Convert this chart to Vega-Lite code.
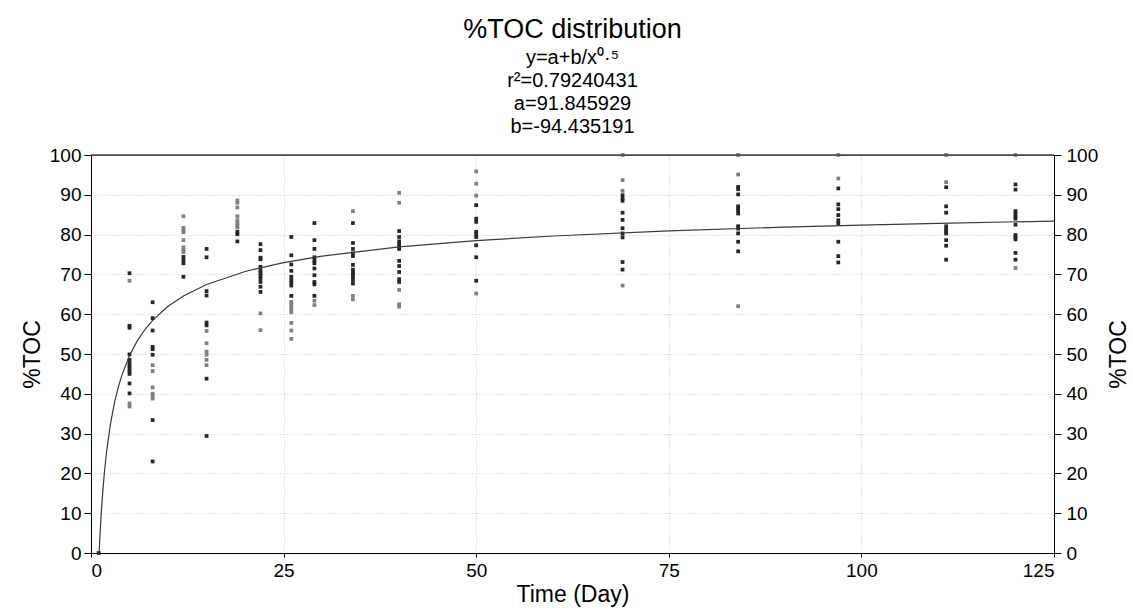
{
  "$schema": "https://vega.github.io/schema/vega-lite/v6.json",
  "width": 963,
  "height": 398,
  "autosize": {"type": "none"},
  "padding": {"left": 91, "top": 155, "right": 79, "bottom": 62},
  "background": "white",
  "title": {
    "text": "%TOC distribution",
    "subtitle": ["y=a+b/x⁰·⁵", "r²=0.79240431", "a=91.845929", "b=-94.435191"],
    "anchor": "middle",
    "font": "Liberation Sans",
    "fontSize": 27,
    "fontWeight": "normal",
    "color": "black",
    "subtitleFont": "Liberation Sans",
    "subtitleFontSize": 20,
    "subtitleColor": "black",
    "subtitleLineHeight": 23,
    "subtitlePadding": 4,
    "offset": 8
  },
  "config": {
    "view": {"stroke": "#333"},
    "axis": {
      "domainColor": "black",
      "tickColor": "black",
      "labelFont": "Liberation Sans",
      "labelFontSize": 19,
      "labelColor": "black",
      "titleFont": "Liberation Sans",
      "titleFontSize": 23,
      "titleFontWeight": "normal",
      "titleColor": "black",
      "gridColor": "#c8c8c8",
      "gridDash": [1, 2],
      "gridWidth": 1,
      "tickSize": 7
    }
  },
  "datasets": {
    "pts": [
      {"day": 1, "toc": 0, "tone": "k"},
      {"day": 5, "toc": 70.3, "tone": "k"}, {"day": 5, "toc": 68.4, "tone": "g"}, {"day": 5, "toc": 57.1, "tone": "k"}, {"day": 5, "toc": 56.6, "tone": "k"}, {"day": 5, "toc": 49.9, "tone": "k"}, {"day": 5, "toc": 48.5, "tone": "k"}, {"day": 5, "toc": 47.7, "tone": "k"}, {"day": 5, "toc": 47.0, "tone": "k"}, {"day": 5, "toc": 46.3, "tone": "k"}, {"day": 5, "toc": 45.6, "tone": "k"}, {"day": 5, "toc": 45.0, "tone": "k"}, {"day": 5, "toc": 42.6, "tone": "k"}, {"day": 5, "toc": 40.1, "tone": "k"}, {"day": 5, "toc": 37.6, "tone": "g"}, {"day": 5, "toc": 36.8, "tone": "g"},
      {"day": 8, "toc": 63.0, "tone": "k"}, {"day": 8, "toc": 59.0, "tone": "k"}, {"day": 8, "toc": 55.9, "tone": "k"}, {"day": 8, "toc": 51.8, "tone": "k"}, {"day": 8, "toc": 51.2, "tone": "k"}, {"day": 8, "toc": 49.8, "tone": "k"}, {"day": 8, "toc": 47.2, "tone": "g"}, {"day": 8, "toc": 45.7, "tone": "g"}, {"day": 8, "toc": 41.6, "tone": "g"}, {"day": 8, "toc": 40.0, "tone": "g"}, {"day": 8, "toc": 39.3, "tone": "g"}, {"day": 8, "toc": 38.8, "tone": "g"}, {"day": 8, "toc": 33.4, "tone": "k"}, {"day": 8, "toc": 23.0, "tone": "k"},
      {"day": 12, "toc": 84.6, "tone": "g"}, {"day": 12, "toc": 81.7, "tone": "g"}, {"day": 12, "toc": 81.1, "tone": "g"}, {"day": 12, "toc": 80.6, "tone": "g"}, {"day": 12, "toc": 78.6, "tone": "g"}, {"day": 12, "toc": 76.8, "tone": "g"}, {"day": 12, "toc": 76.1, "tone": "g"}, {"day": 12, "toc": 75.6, "tone": "g"}, {"day": 12, "toc": 74.4, "tone": "k"}, {"day": 12, "toc": 73.6, "tone": "k"}, {"day": 12, "toc": 72.8, "tone": "k"}, {"day": 12, "toc": 69.4, "tone": "k"},
      {"day": 15, "toc": 76.4, "tone": "k"}, {"day": 15, "toc": 74.3, "tone": "k"}, {"day": 15, "toc": 65.8, "tone": "k"}, {"day": 15, "toc": 64.7, "tone": "k"}, {"day": 15, "toc": 57.9, "tone": "k"}, {"day": 15, "toc": 57.2, "tone": "k"}, {"day": 15, "toc": 55.8, "tone": "g"}, {"day": 15, "toc": 52.7, "tone": "g"}, {"day": 15, "toc": 50.6, "tone": "g"}, {"day": 15, "toc": 49.8, "tone": "g"}, {"day": 15, "toc": 48.5, "tone": "g"}, {"day": 15, "toc": 47.2, "tone": "g"}, {"day": 15, "toc": 43.8, "tone": "k"}, {"day": 15, "toc": 29.4, "tone": "k"},
      {"day": 19, "toc": 88.6, "tone": "g"}, {"day": 19, "toc": 88.0, "tone": "g"}, {"day": 19, "toc": 86.8, "tone": "g"}, {"day": 19, "toc": 84.6, "tone": "g"}, {"day": 19, "toc": 83.6, "tone": "g"}, {"day": 19, "toc": 82.9, "tone": "g"}, {"day": 19, "toc": 82.3, "tone": "g"}, {"day": 19, "toc": 81.8, "tone": "g"}, {"day": 19, "toc": 80.7, "tone": "k"}, {"day": 19, "toc": 80.1, "tone": "k"}, {"day": 19, "toc": 78.3, "tone": "k"},
      {"day": 22, "toc": 77.6, "tone": "k"}, {"day": 22, "toc": 76.1, "tone": "k"}, {"day": 22, "toc": 74.2, "tone": "k"}, {"day": 22, "toc": 73.8, "tone": "k"}, {"day": 22, "toc": 71.9, "tone": "k"}, {"day": 22, "toc": 70.9, "tone": "k"}, {"day": 22, "toc": 70.4, "tone": "k"}, {"day": 22, "toc": 69.7, "tone": "k"}, {"day": 22, "toc": 69.0, "tone": "k"}, {"day": 22, "toc": 68.1, "tone": "k"}, {"day": 22, "toc": 66.9, "tone": "k"}, {"day": 22, "toc": 65.6, "tone": "k"}, {"day": 22, "toc": 60.2, "tone": "g"}, {"day": 22, "toc": 56.0, "tone": "g"},
      {"day": 26, "toc": 79.4, "tone": "k"}, {"day": 26, "toc": 74.8, "tone": "k"}, {"day": 26, "toc": 72.5, "tone": "k"}, {"day": 26, "toc": 70.9, "tone": "k"}, {"day": 26, "toc": 69.4, "tone": "k"}, {"day": 26, "toc": 68.6, "tone": "k"}, {"day": 26, "toc": 67.9, "tone": "k"}, {"day": 26, "toc": 67.2, "tone": "k"}, {"day": 26, "toc": 64.6, "tone": "k"}, {"day": 26, "toc": 63.1, "tone": "g"}, {"day": 26, "toc": 62.5, "tone": "g"}, {"day": 26, "toc": 61.9, "tone": "g"}, {"day": 26, "toc": 61.2, "tone": "g"}, {"day": 26, "toc": 60.5, "tone": "g"}, {"day": 26, "toc": 57.8, "tone": "g"}, {"day": 26, "toc": 55.9, "tone": "g"}, {"day": 26, "toc": 53.8, "tone": "g"},
      {"day": 29, "toc": 82.9, "tone": "k"}, {"day": 29, "toc": 78.6, "tone": "k"}, {"day": 29, "toc": 76.4, "tone": "k"}, {"day": 29, "toc": 74.3, "tone": "k"}, {"day": 29, "toc": 73.4, "tone": "k"}, {"day": 29, "toc": 72.8, "tone": "k"}, {"day": 29, "toc": 71.5, "tone": "k"}, {"day": 29, "toc": 69.8, "tone": "k"}, {"day": 29, "toc": 68.1, "tone": "k"}, {"day": 29, "toc": 67.5, "tone": "k"}, {"day": 29, "toc": 64.6, "tone": "k"}, {"day": 29, "toc": 63.4, "tone": "g"}, {"day": 29, "toc": 62.3, "tone": "g"},
      {"day": 34, "toc": 85.9, "tone": "g"}, {"day": 34, "toc": 82.9, "tone": "k"}, {"day": 34, "toc": 77.9, "tone": "k"}, {"day": 34, "toc": 76.4, "tone": "k"}, {"day": 34, "toc": 75.3, "tone": "k"}, {"day": 34, "toc": 74.6, "tone": "k"}, {"day": 34, "toc": 72.4, "tone": "k"}, {"day": 34, "toc": 71.2, "tone": "k"}, {"day": 34, "toc": 70.6, "tone": "k"}, {"day": 34, "toc": 70.1, "tone": "k"}, {"day": 34, "toc": 69.4, "tone": "k"}, {"day": 34, "toc": 68.6, "tone": "k"}, {"day": 34, "toc": 67.7, "tone": "k"}, {"day": 34, "toc": 64.6, "tone": "g"}, {"day": 34, "toc": 63.7, "tone": "g"},
      {"day": 40, "toc": 90.5, "tone": "g"}, {"day": 40, "toc": 88.0, "tone": "g"}, {"day": 40, "toc": 80.9, "tone": "k"}, {"day": 40, "toc": 79.4, "tone": "k"}, {"day": 40, "toc": 78.3, "tone": "k"}, {"day": 40, "toc": 77.6, "tone": "k"}, {"day": 40, "toc": 76.9, "tone": "k"}, {"day": 40, "toc": 76.4, "tone": "k"}, {"day": 40, "toc": 73.4, "tone": "k"}, {"day": 40, "toc": 72.1, "tone": "k"}, {"day": 40, "toc": 70.6, "tone": "k"}, {"day": 40, "toc": 68.8, "tone": "k"}, {"day": 40, "toc": 68.1, "tone": "k"}, {"day": 40, "toc": 66.1, "tone": "g"}, {"day": 40, "toc": 62.5, "tone": "g"}, {"day": 40, "toc": 61.9, "tone": "g"},
      {"day": 50, "toc": 95.9, "tone": "g"}, {"day": 50, "toc": 92.8, "tone": "g"}, {"day": 50, "toc": 89.8, "tone": "g"}, {"day": 50, "toc": 87.4, "tone": "k"}, {"day": 50, "toc": 84.0, "tone": "k"}, {"day": 50, "toc": 83.2, "tone": "k"}, {"day": 50, "toc": 80.7, "tone": "k"}, {"day": 50, "toc": 80.1, "tone": "k"}, {"day": 50, "toc": 79.4, "tone": "k"}, {"day": 50, "toc": 77.3, "tone": "k"}, {"day": 50, "toc": 74.3, "tone": "k"}, {"day": 50, "toc": 68.4, "tone": "k"}, {"day": 50, "toc": 65.2, "tone": "g"},
      {"day": 69, "toc": 100, "tone": "g"}, {"day": 69, "toc": 93.7, "tone": "g"}, {"day": 69, "toc": 91.0, "tone": "g"}, {"day": 69, "toc": 89.9, "tone": "k"}, {"day": 69, "toc": 89.1, "tone": "k"}, {"day": 69, "toc": 88.5, "tone": "k"}, {"day": 69, "toc": 85.5, "tone": "k"}, {"day": 69, "toc": 83.7, "tone": "k"}, {"day": 69, "toc": 81.6, "tone": "k"}, {"day": 69, "toc": 80.3, "tone": "k"}, {"day": 69, "toc": 79.3, "tone": "k"}, {"day": 69, "toc": 73.1, "tone": "k"}, {"day": 69, "toc": 71.2, "tone": "k"}, {"day": 69, "toc": 67.2, "tone": "g"},
      {"day": 84, "toc": 100, "tone": "g"}, {"day": 84, "toc": 95.1, "tone": "g"}, {"day": 84, "toc": 92.0, "tone": "k"}, {"day": 84, "toc": 91.4, "tone": "k"}, {"day": 84, "toc": 90.1, "tone": "k"}, {"day": 84, "toc": 87.1, "tone": "k"}, {"day": 84, "toc": 86.6, "tone": "k"}, {"day": 84, "toc": 86.1, "tone": "k"}, {"day": 84, "toc": 85.3, "tone": "k"}, {"day": 84, "toc": 82.1, "tone": "k"}, {"day": 84, "toc": 81.5, "tone": "k"}, {"day": 84, "toc": 80.3, "tone": "k"}, {"day": 84, "toc": 78.2, "tone": "k"}, {"day": 84, "toc": 75.8, "tone": "k"}, {"day": 84, "toc": 62.0, "tone": "g"},
      {"day": 97, "toc": 100, "tone": "g"}, {"day": 97, "toc": 94.1, "tone": "g"}, {"day": 97, "toc": 91.6, "tone": "k"}, {"day": 97, "toc": 87.6, "tone": "k"}, {"day": 97, "toc": 86.4, "tone": "k"}, {"day": 97, "toc": 84.9, "tone": "k"}, {"day": 97, "toc": 83.6, "tone": "k"}, {"day": 97, "toc": 82.8, "tone": "k"}, {"day": 97, "toc": 78.2, "tone": "k"}, {"day": 97, "toc": 74.6, "tone": "k"}, {"day": 97, "toc": 73.0, "tone": "k"},
      {"day": 111, "toc": 100, "tone": "g"}, {"day": 111, "toc": 93.2, "tone": "g"}, {"day": 111, "toc": 91.9, "tone": "k"}, {"day": 111, "toc": 87.1, "tone": "k"}, {"day": 111, "toc": 85.5, "tone": "k"}, {"day": 111, "toc": 82.1, "tone": "k"}, {"day": 111, "toc": 81.4, "tone": "k"}, {"day": 111, "toc": 80.9, "tone": "k"}, {"day": 111, "toc": 80.3, "tone": "k"}, {"day": 111, "toc": 78.6, "tone": "k"}, {"day": 111, "toc": 77.2, "tone": "k"}, {"day": 111, "toc": 73.7, "tone": "k"},
      {"day": 120, "toc": 100, "tone": "g"}, {"day": 120, "toc": 92.6, "tone": "k"}, {"day": 120, "toc": 91.3, "tone": "k"}, {"day": 120, "toc": 85.9, "tone": "k"}, {"day": 120, "toc": 85.3, "tone": "k"}, {"day": 120, "toc": 84.6, "tone": "k"}, {"day": 120, "toc": 84.0, "tone": "k"}, {"day": 120, "toc": 82.5, "tone": "k"}, {"day": 120, "toc": 79.9, "tone": "k"}, {"day": 120, "toc": 79.3, "tone": "k"}, {"day": 120, "toc": 78.8, "tone": "k"}, {"day": 120, "toc": 75.4, "tone": "k"}, {"day": 120, "toc": 73.7, "tone": "k"}, {"day": 120, "toc": 71.6, "tone": "g"}
    ],
    "fit": [
      {"day": 1.06, "toc": 0.12}, {"day": 1.1, "toc": 1.81}, {"day": 1.15, "toc": 3.78}, {"day": 1.2, "toc": 5.64}, {"day": 1.3, "toc": 9.02}, {"day": 1.4, "toc": 12.03}, {"day": 1.5, "toc": 14.74}, {"day": 1.75, "toc": 20.46}, {"day": 2, "toc": 25.07}, {"day": 2.5, "toc": 32.12}, {"day": 3, "toc": 37.32}, {"day": 3.5, "toc": 41.37}, {"day": 4, "toc": 44.63}, {"day": 5, "toc": 49.61}, {"day": 6, "toc": 53.29}, {"day": 7, "toc": 56.15}, {"day": 8, "toc": 58.46}, {"day": 10, "toc": 61.98}, {"day": 12, "toc": 64.58}, {"day": 15, "toc": 67.46}, {"day": 20, "toc": 70.73}, {"day": 25, "toc": 72.96}, {"day": 30, "toc": 74.6}, {"day": 40, "toc": 76.91}, {"day": 50, "toc": 78.49}, {"day": 60, "toc": 79.65}, {"day": 75, "toc": 80.94}, {"day": 90, "toc": 81.89}, {"day": 100, "toc": 82.4}, {"day": 110, "toc": 82.84}, {"day": 125, "toc": 83.4}
    ]
  },
  "layer": [
    {
      "data": {"name": "pts"},
      "mark": {"type": "point", "shape": "square", "filled": true, "size": 14, "opacity": 1, "clip": false},
      "encoding": {
        "x": {
          "field": "day", "type": "quantitative",
          "scale": {"domain": [0, 125], "nice": false, "zero": false},
          "axis": {"values": [0, 25, 50, 75, 100, 125], "title": "Time (Day)", "grid": true, "tickSize": 4, "labelPadding": 4, "titlePadding": 3}
        },
        "y": {
          "field": "toc", "type": "quantitative",
          "scale": {"domain": [0, 100], "nice": false},
          "axis": {"orient": "left", "values": [0, 10, 20, 30, 40, 50, 60, 70, 80, 90, 100], "title": "%TOC", "grid": true, "labelPadding": 3, "titlePadding": 5}
        },
        "color": {
          "field": "tone", "type": "nominal",
          "scale": {"domain": ["k", "g"], "range": ["#262626", "#808080"]},
          "legend": null
        }
      }
    },
    {
      "data": {"values": [{"top": 100}]},
      "mark": {"type": "rule", "color": "#444", "strokeWidth": 1.5},
      "encoding": {
        "y": {"field": "top", "type": "quantitative", "scale": {"domain": [0, 100], "nice": false}, "axis": null}
      }
    },
    {
      "data": {"name": "fit"},
      "mark": {"type": "line", "color": "#3a3a3a", "strokeWidth": 1.2},
      "encoding": {
        "x": {"field": "day", "type": "quantitative"},
        "y": {
          "field": "toc", "type": "quantitative",
          "scale": {"domain": [0, 100], "nice": false},
          "axis": {"orient": "right", "values": [0, 10, 20, 30, 40, 50, 60, 70, 80, 90, 100], "title": "%TOC", "grid": false, "labelPadding": 5, "titlePadding": 10, "titleAngle": 270, "titleBaseline": "top"}
        }
      }
    }
  ],
  "resolve": {"scale": {"y": "independent"}, "axis": {"y": "independent"}}
}
